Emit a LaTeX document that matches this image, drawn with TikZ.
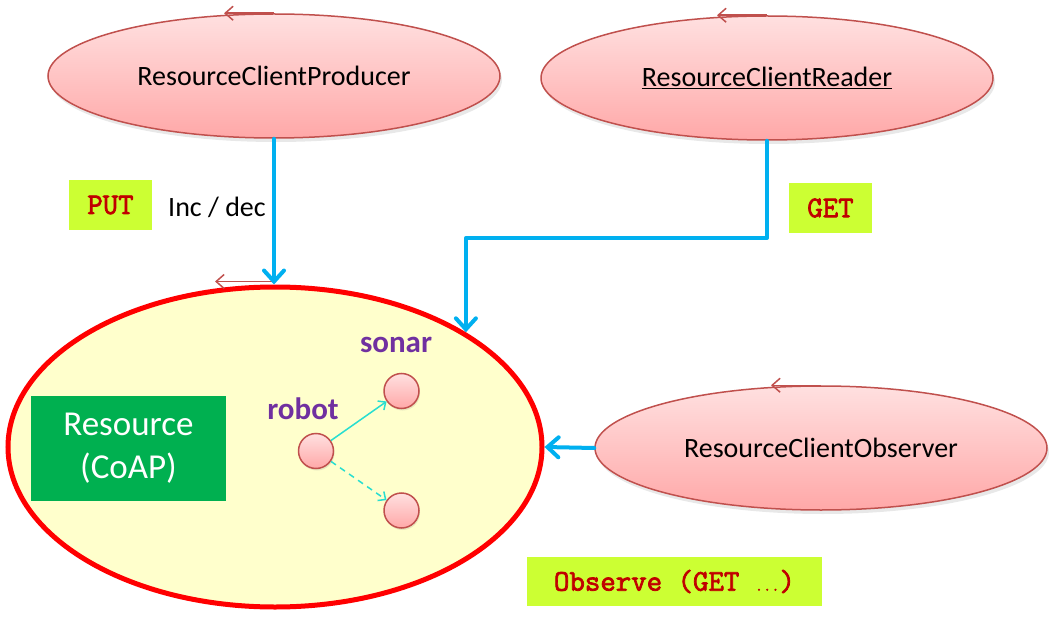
\documentclass[tikz,border=0pt]{standalone}
\usepackage{fontspec}
\setmainfont{Carlito}
\newfontfamily\courb{Latin Modern Mono}[FakeBold=2.4]
\usetikzlibrary{shapes.geometric,arrows.meta,shadows,calc}
\definecolor{pinkTop}{RGB}{255,224,224}
\definecolor{pinkBot}{RGB}{255,168,168}
\definecolor{pinkLine}{RGB}{192,80,77}
\definecolor{flowBlue}{RGB}{0,176,240}
\definecolor{resYellow}{RGB}{255,255,204}
\definecolor{resGreen}{RGB}{0,176,80}
\definecolor{lblFill}{RGB}{204,255,51}
\definecolor{lblText}{RGB}{192,0,0}
\definecolor{purp}{RGB}{112,48,160}
\definecolor{turq}{RGB}{40,222,208}
\tikzset{
  usecase/.style={ellipse, draw=pinkLine, line width=1.5pt, top color=pinkTop, bottom color=pinkBot,
    inner sep=0pt, minimum width=452pt, minimum height=124pt, font=\fontsize{28}{32}\selectfont,
    drop shadow={opacity=0.18, shadow xshift=2pt, shadow yshift=-4pt}},
  ucarrow/.style={draw=pinkLine, line width=1.5pt, -{Straight Barb[length=8pt,width=14pt]}},
  flow/.style={draw=flowBlue, line width=4pt, line cap=round, line join=round,
    -{Straight Barb[length=11pt,width=20pt,line cap=round]}},
  lbl/.style={fill=lblFill, text=lblText, inner sep=0pt, font=\courb\fontsize{30}{34}\selectfont},
  obj/.style={circle, draw=pinkLine, line width=1.5pt, top color=pinkTop, bottom color=pinkBot,
    inner sep=0pt, minimum size=35pt, drop shadow={opacity=0.18, shadow xshift=1pt, shadow yshift=-2pt}},
  objname/.style={text=purp, font=\bfseries\fontsize{31}{34}\selectfont},
  link/.style={draw=turq, line width=1.5pt, -{Straight Barb[length=6pt,width=11pt]}}
}
\begin{document}
\begin{tikzpicture}[x=1pt,y=-1pt]
\useasboundingbox (0,0) rectangle (1054,620);
% clients
\node[usecase] (prod) at (274,76) {ResourceClientProducer};
\node[usecase] (read) at (767,78) {\underline{ResourceClientReader}};
\node[usecase] (obs) at (821,448) {ResourceClientObserver};
% resource
\node[ellipse, draw=red, line width=5pt, fill=resYellow, minimum width=534pt, minimum height=320pt, inner sep=0pt] (big) at (275,447) {};
\node[fill=resGreen, text=white, minimum width=195pt, minimum height=105pt, inner sep=0pt, align=center,
  font=\fontsize{35}{43}\selectfont] (res) at (128.5,448.5) {Resource\\(CoAP)};
% usecase arrows on top
\draw[ucarrow] (prod.north) -- ++(-50,0);
\draw[ucarrow] (read.north) -- ++(-50,0);
\draw[ucarrow] (obs.north) -- ++(-50,0);
\draw[ucarrow] ([yshift=3pt]big.north) -- ++(-60,0);
% objects
\node[obj] (robot) at (316,451) {};
\node[obj] (sonar) at (401.5,391) {};
\node[obj] (other) at (401.5,510.5) {};
\node[objname] (robotlbl) at (303,409) {robot};
\node[objname] (sonarlbl) at (396,345) {sonar};
\draw[link] (robot) -- (sonar);
\draw[link, dashed, dash pattern=on 6pt off 5pt] (robot) -- (other);
% flows
\draw[flow] (prod.south) -- (prod.south |- big.north);
\draw[flow] (read.south) -- (767,238) -| (big.31.7);
\draw[flow] (obs.west) -- (big.east);
% labels
\node[lbl, minimum width=83pt, minimum height=50pt] (put) at (110.5,205) {PUT};
\node[font=\fontsize{28}{32}\selectfont, inner sep=0pt] (incdec) at (217,207) {Inc / dec};
\node[lbl, minimum width=83pt, minimum height=50pt] (get) at (830.5,208) {GET};
\node[lbl, minimum width=295pt, minimum height=49pt] (observe) at (674.5,581.5) {Observe (GET {\fontsize{16}{18}\selectfont ...})};
\end{tikzpicture}
\end{document}
